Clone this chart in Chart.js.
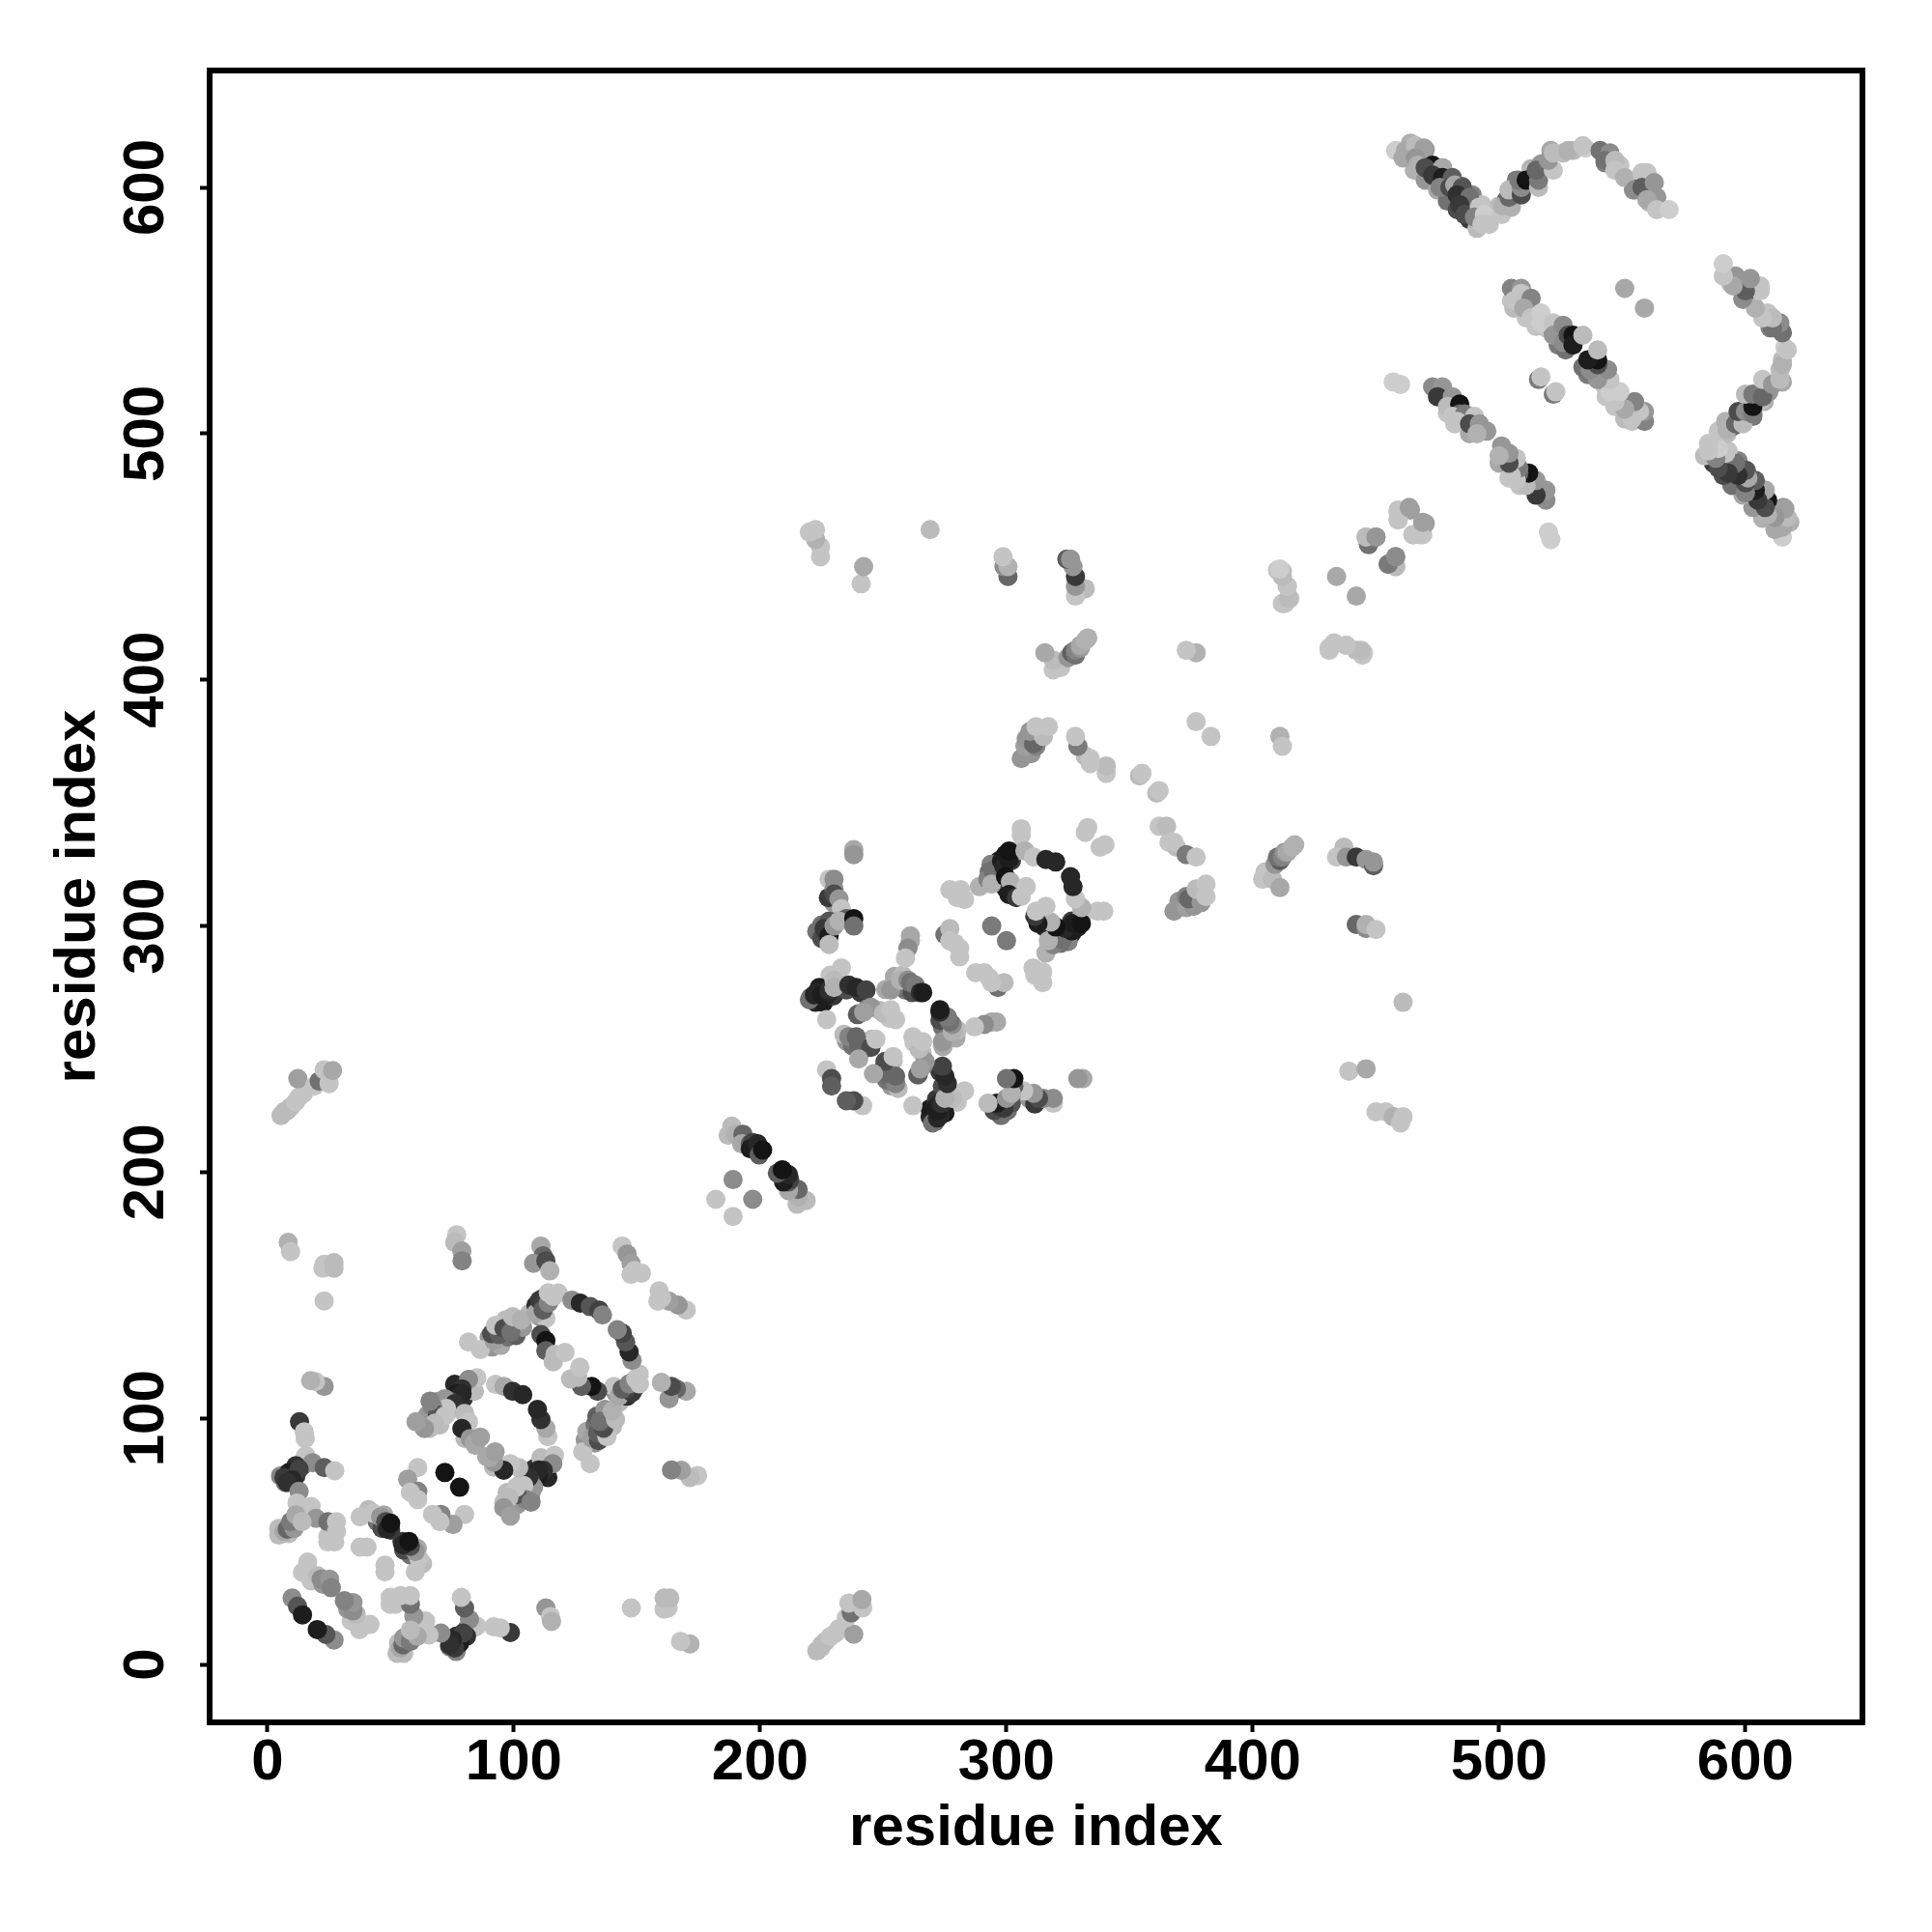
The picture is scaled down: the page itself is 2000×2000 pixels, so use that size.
<!DOCTYPE html>
<html><head><meta charset="utf-8">
<style>html,body{margin:0;padding:0;background:#fff}canvas{display:block}</style>
<script src="https://cdn.jsdelivr.net/npm/chart.js@4"></script></head>
<body><canvas id="c" width="2000" height="2000"></canvas>
<script>
// contacts: [residue i, residue j, coupling strength 0..1]; the map is symmetric
const edgeTopStrand=[[465.6,607,.15],[470,603,.3],[475,599,.2],[479,594.5,.5],[483,591,.7],[488,587,.8],[491,583.4,.1],[464,618,.15],[470,615.4,.3],[477,608,.2],[480,604,.5],[485,600.4,.6],[489,597,.4],[493,593,.05],[500,592.5,.1],[503,595,.55],[507,603,.45],[513,607.6,.15],[517,609.5,.3],[521,615,.2],[526,614,.1],[530,615,.1],[543,610,.4],[545,613,.1],[549,609,.05],[554.5,599,.3],[560,606,.05],[557,600,.8],[561,594,.1]];
const edgeStrands=[[505,554,.05],[506,551,.1],[511,547,.05],[515,543.5,.05],[519,543,.05],[522,541,.35],[524,536,.45],[527,534,.5],[479,508.3,.05],[482,504,.05],[488,500,.2]];
const edgeDomainOne=[[108.4,142.7,.4],[110.5,141.3,.3],[113,140.6,.05],[106.4,142.7,.1],[114.6,148,.6],[112,148.8,.85],[109,146,.85],[94,137,.3],[90,133,.3],[91.2,129,.3],[94.7,129.6,.2],[97.4,133,.5],[100.9,133.7,.6],[103.6,137,.3],[100,138,.2],[96.7,140,.1],[76,113.8,.9],[81,113.8,.8],[82.3,115.8,.2],[79.6,108.3,.85],[84,111,.1],[69.2,106.9,.3],[65,101.4,.3],[65.8,95.9,.1],[69.9,97.3,.1],[73.4,102.8,.1],[80.2,91.8,.1],[84.4,89,.2],[5.3,76.6,.4],[7.3,73.9,.5],[15.6,84.9,.05],[11.5,76.6,.85],[14.2,80.8,.5],[4.6,55.3,.1],[4.6,52.6,.1],[8.7,53.2,.1],[13.5,64.2,.05],[17.7,64.2,.05],[14.2,59.4,.05],[11.5,58,.55],[27.3,55.3,.05],[24.5,51.9,.05],[44.5,58,.5],[46.5,55.3,.7],[50,54.6,.8],[47.2,60.8,.2],[41,62.9,.1],[14.2,37.4,.05],[17.7,34,.05],[22.5,32.6,.3]];
const edgeDomainTwo=[[220.5,271,.6],[222.5,269,.9],[225.8,269,.95],[229.7,271.6,.8],[231.7,276.8,.1],[228.4,280,.05],[235,274,.7],[240.8,273,.8],[256.5,276.8,.3],[259,274,.5],[261.7,273,.7],[254.5,279.5,.2],[257.8,280,.1],[251,274.2,.2],[243.4,266.4,.4],[240,264.4,.3],[248.6,265.7,.1],[252.6,262.5,.05],[235,253.3,.3],[237.5,251.3,.5],[240,253,.4],[245.4,254,.1],[242,250,.6],[297,326.5,.9],[299.6,329,.95],[302,326.5,.8],[293.7,325,.4],[293,322,.5],[297,318.7,.6],[299.6,315.4,.9],[303,314.7,.2],[304,330.5,.1],[229.7,309.5,.3],[227.7,311.5,.8],[225,300.4,.5],[223,297.8,.5],[225,295,.7]];
const blockTopStrand=[[458,615,0],[462,615,.2],[461,612,.2],[466,617,.1],[469.5,616,.25],[466,612,.3],[467,609,.15],[473,609,1],[470,608,.7],[477,608,.2],[473,605,.8],[477,604,.95],[481,604,.6],[476,600,.4],[480,600,.7],[482,601,.2],[485,600,.65],[483,597,.85],[488,596,.5],[484,593,.8],[486,589,.7],[492,592,.05],[490,588,.4],[494,589,0],[493,585,.05],[496,585,.05],[501,589,.05],[501.5,592.5,.15],[505,592,.15],[504,596,.55],[504,599,.1],[509,597,.7],[509,600,.35],[508,603,.45],[513,606,.1],[511,603,1],[516,600,.1],[516,603,.45],[515,607,.55],[522,607,.05],[520,611,.3],[522,614,.1],[528,615,.15],[535,616,0],[534,617,.05],[541,615,.5],[545,614,.35],[543,611,.5],[547,611,.1],[547,607,.05],[551,604,.15],[555,599,.35],[558,606,.05],[558,600,.6],[563,602,.3],[564,596,.3],[560,595,.2],[564,591,.05],[569,591,0]];
const blockMidStrand=[[505,559,.4],[509,559,.3],[506,554,.05],[509,557,.05],[513,555,.4],[510,551,.2],[513,547,.05],[517,549,0],[517,545,0],[522,545,.05],[522,540,.3],[526,544,.35],[526,537,.35],[528,540,.7],[530,540,1],[530,536,.95],[534,540,.1],[551,559,.2],[516,522,.45],[517,523,.05]];
const blockLowStrand=[[457,521,0],[460,520,0],[473,519,.35],[477,519,.3],[475,515,.8],[481,515,.3],[479,511,.1],[484,512,1],[484,508,.55],[481,507,.05],[486,508,.45],[483,505,.05],[490,507,.05],[488,504,.7],[492,504,.3],[495,501,.3],[491,500,.15]];
const blockScatter=[[459,468,.05],[459,465,.05],[464,469,.25],[465,459,.05],[469,459,.05],[470,463.5,.25],[446,458,.1],[447,455,.45],[450,458,.35],[455,447,.5],[458,446,.1],[458,450,.3],[434,442,.2],[410,444.5,.05],[412,444,.1],[414,438,.05],[413,431,.05],[415,433,.05],[431,412,.05],[433,414.5,.1],[438,414,.05],[442,412,.1],[445,411,0],[411,377,.15],[412,373,.05],[354,361,.1],[355,362,.05],[377,383,.05]];
const blockMiddleFar=[[362,340.5,.05],[365,340.5,.1],[366,334,.05],[369,332,.1],[368,334,.05],[373,329,.45],[377,328,.05],[368,306,.3],[370,310,.3],[373,307.5,.25],[373,312,.4],[376,308,.3],[374,311,.55],[379,309.5,.3],[377,315,.1],[381,312,.05],[381,317,.05],[404,319,.05],[405,322,.05],[408,319,.1],[411,315.6,.2],[409,325,.3],[411,326.5,.6],[410,328,.5],[412,328,.4],[413,330,.3],[414,330,.2],[416,332,.15],[417,333,.15],[437,332,.1],[434,328,.05],[438,328,.3],[442,328,.8],[446,327,.3],[449,324.5,.6],[449,326,.3],[442,300.6,.55],[446,299,.35],[446,300.6,.15],[450,298.6,.05],[461,269,.1],[439,241,.05],[446,242,.2],[450,224.5,.05],[454,224.5,.05],[457,222.5,.15],[460,220,.05],[461,222.5,.05],[238,331,.2],[238,329,.3]];
const blockRingTwoHundred=[[188.5,218.7,.1],[187,215,.1],[190,215.4,.15],[193,215.4,.55],[192.5,211.5,.2],[196,211.5,.6],[197,212,.75],[196,209.5,.95],[199,211.5,.9],[199.6,207,.6],[201,209,1],[189,197,.35],[182,189,.05]];
const blockDomainTwoUpper=[[228,319,.05],[230,319,.35],[230,315,.35],[230,313,.7],[232,311,.3],[233,307,.05],[235,303,.6],[231,302,.2],[228,302,.65],[226,299,.8],[227,297,.8],[228,296,.95],[228,292.5,.1],[230,300,.3],[232,302,.15],[238,303,1],[238,300,.5],[261,296,.2],[261,294,.2],[260,291,.35],[259,287,.05],[275,296.5,.5],[277,299,.1],[277,294,.05],[281,291,.05],[279,293,.05],[281,287.5,.05],[294,300,.45],[220,270,.5],[222,272,.9],[224,275,.95],[223,273,.9],[225,272,.95],[227,272,.95],[228,273,.9],[228,274,.85],[233,283,.05],[230,278,.1],[230,275,.15],[236,276,.85],[239,275,.9],[243,274,.75],[253,274,.3],[257,278,.15],[260,278,.35],[261,277,.5],[263,276,.45],[265,273,.85],[266,273,.95],[245,267,.3],[239.5,264,.6],[242,265,.25],[250,264.5,.1],[253,266,.05],[255,262,.05],[227,262,.05],[234,256,.1],[236,255,.4],[239,255,.55],[240,251,.55],[245,250.7,.7],[247,254,.05],[240,246,.2],[227,241.6,.05],[229,238,.7],[229,235,.6],[277,314.7,.05],[281.4,314.7,.05],[280,311.5,.05],[283,310.8,.05],[289,316,.15],[292.4,319,.4],[294.4,322.6,.5],[294,317,.15],[298,326.5,.95],[299,324,.9],[301,327,.95],[301,330.4,1],[299.6,320,1],[301.6,318,.15],[301,312.8,.95],[304,311.5,.8],[306,312,.05],[308,316,.05],[306,339.5,.05],[306,337,.05],[307.5,330.5,.15],[311,328,.05],[316,327,.9],[320,326,.9],[333,340,.05],[332,338,.05]];
const blockDomainOneUpper=[[8.4,171.5,.15],[9.4,167.7,.05],[23,162.6,.05],[22.5,161,.05],[27,163.3,.1],[27,161,.1],[23,147.7,.05],[76.8,174.6,.05],[76,171.5,.1],[78.9,168,.25],[79,164,.4],[111,170,.2],[111.9,166,.55],[108,163,.3],[113,164,.7],[114.6,159.9,.15],[144,170,.05],[146,166.7,.3],[147.6,163,.25],[149,160,.05],[147.6,158.5,.05],[151.8,159,.05],[81.6,131,.05],[86.4,128,.05],[92,131.6,.25],[91,134.4,.7],[94,134,.6],[92.6,137.8,.05],[96,136.5,.7],[98.8,135,.5],[99.5,141.3,.1],[103,140,.15],[109,142.7,.2],[110.5,148,.8],[111.9,146,.75],[111.9,144,.6],[114,146.8,.4],[114,151,.05],[116,149.5,.05],[118,150.9,.05],[123.6,148,.35],[127,146.8,.9],[131,145.4,.65],[134.6,144,.75],[136,142,.4],[111,134,.7],[113,131.6,1],[113,127.5,.6],[116.7,126,.1],[116,123,.1],[120.8,126.8,.05],[85,116.5,.05],[81.6,115.8,.35],[78.9,112,.85],[76.8,110,.95],[79,110,.9],[74,107,.7],[72,108,.3],[76,106,.85],[72.7,104,.05],[67,104.8,.4],[69,101.4,.65],[66,107,.4],[72,101,.05],[67.9,98,.1],[63.7,95.9,.3],[60.3,98.6,.25],[80,102,.1],[81.6,98.6,.05],[78.9,95.9,.9],[82.3,91.8,.3],[84,90,.2],[86.4,92.4,.25],[92.6,113.8,.05],[96,113,.2],[99.5,111,.85],[103.6,109.6,.9],[72,78,1],[61,80,.05],[56.9,75.3,.25],[61,70.4,.4],[58,70,.05],[61,67,.05],[37.6,60,.05],[43,61.5,.05],[45.9,60,.3],[48,58,.7],[48.6,55,.9],[50,57.4,1],[40.4,47.7,.05],[37.6,47.7,.05]];
const blockDomainOneCorner=[[13,98.6,.8],[14.9,94.5,.05],[15.3,91.8,.05],[14.9,83.5,.05],[18.3,82,.35],[23,80,.6],[27.3,78.7,.05],[11.5,80.8,.85],[8.7,78,.95],[6.7,76,.8],[12.8,79.4,.75],[10,75,.9],[8,74,.85],[12.8,70.4,.35],[12,65.6,.05],[15.6,62.9,.05],[19.7,59.4,.3],[24.5,58,.5],[28,58,.05],[28,54,.05],[27.3,49.8,.05],[24.5,49.8,.05],[6.7,54,.2],[8,55,.55],[10.8,55.3,.3],[9.4,58,.45],[11.5,60.8,.2],[14,58,.1],[16.3,41.6,.05],[17,37.4,.05],[20.4,36,.1],[21.8,34.7,.35],[25.2,34.7,.3],[25.9,31.2,.4],[10,27,.35],[12.2,23.7,.65],[14.2,20.2,.95],[113,23,.3],[114.9,19.5,.05],[115.3,17.5,.15]];
const blockFarCorner=[[5.5,223,.1],[6.8,224.6,.1],[8,225,.1],[9.4,226.5,.1],[11.4,228.5,.05],[12.7,230.5,.05],[14.6,232,.05],[12.3,238,.25],[19,235,.05],[21,237,.5],[25,236,.05],[23,241.6,.05],[26.4,241.3,.2]];
const xTicks=[0,100,200,300,400,500,600];
const yTicks=[0,100,200,300,400,500,600];
const axisLabel="residue index";

const contacts=[...edgeDomainOne,...edgeDomainTwo,...edgeStrands,...edgeTopStrand,...blockDomainOneCorner,...blockDomainOneUpper,...blockFarCorner,...blockRingTwoHundred,...blockDomainTwoUpper,...blockMiddleFar,...blockScatter,...blockLowStrand,...blockMidStrand,...blockTopStrand];
const points=[];
contacts.forEach(c=>points.push({x:c[0],y:c[1],c:c[2]}));
contacts.forEach(c=>points.push({x:c[1],y:c[0],c:c[2]}));
const grayOf=c=>{const g=Math.round(205-185*c);return `rgb(${g},${g},${g})`;};
const FONT='"Liberation Sans", Arial, sans-serif';
const frame={id:'frame',afterDraw(ch){const a=ch.chartArea,x=ch.ctx;x.save();x.strokeStyle='#000';x.lineWidth=6;x.strokeRect(a.left,a.top,a.right-a.left,a.bottom-a.top);x.restore();}};
const axis=(ticksList,extra)=>Object.assign({type:'linear',min:-23.5,max:647.5,
  grid:{display:true,drawOnChartArea:false,drawTicks:true,tickLength:10,tickWidth:4,tickColor:'#000'},
  border:{display:false},
  afterBuildTicks(s){s.ticks=ticksList.map(v=>({value:v}));}
},extra);
new Chart(document.getElementById('c'),{type:'scatter',
 data:{datasets:[{data:points,parsing:false,pointRadius:10,pointHoverRadius:10,pointBorderWidth:0,showLine:false,
   pointBackgroundColor:points.map(p=>grayOf(p.c))}]},
 options:{responsive:false,animation:false,devicePixelRatio:1,
  layout:{padding:{left:0,top:73,right:72,bottom:0}},
  plugins:{legend:{display:false},tooltip:{enabled:false}},
  scales:{
   x:axis(xTicks,{position:'bottom',
     ticks:{autoSkip:false,includeBounds:false,stepSize:100,maxRotation:0,minRotation:0,padding:-4,color:'#000',font:{family:FONT,weight:'bold',size:60}},
     title:{display:true,text:axisLabel,color:'#000',font:{family:FONT,weight:'bold',size:60},padding:{top:0,bottom:71}},
     afterFit(s){s.height=217;}}),
   y:axis(yTicks,{position:'left',
     ticks:{autoSkip:false,includeBounds:false,stepSize:100,minRotation:90,maxRotation:90,crossAlign:'center',padding:4,color:'#000',font:{family:FONT,weight:'bold',size:60}},
     title:{display:true,text:axisLabel,color:'#000',font:{family:FONT,weight:'bold',size:60},padding:{top:45,bottom:0}},
     afterFit(s){s.width=217;}})
  }},
 plugins:[frame]});
</script></body></html>
